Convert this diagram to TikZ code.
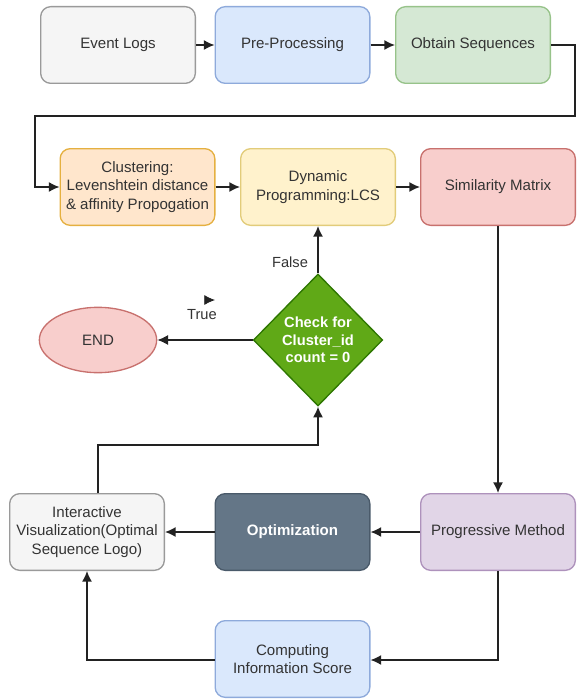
\documentclass[tikz,border=0pt]{standalone}
\usepackage{fontspec}
\setmainfont{Liberation Sans}
\usetikzlibrary{shapes.geometric,arrows.meta}
\definecolor{txt}{HTML}{333333}
\definecolor{grayF}{HTML}{F5F5F5}\definecolor{grayD}{HTML}{9A9A9A}
\definecolor{blueF}{HTML}{DAE8FC}\definecolor{blueD}{HTML}{8EAADB}
\definecolor{greenF}{HTML}{D5E8D4}\definecolor{greenD}{HTML}{97C38A}
\definecolor{orangeF}{HTML}{FFE6CC}\definecolor{orangeD}{HTML}{E5B040}
\definecolor{yellowF}{HTML}{FFF2CC}\definecolor{yellowD}{HTML}{E2CC7A}
\definecolor{redF}{HTML}{F8CECC}\definecolor{redD}{HTML}{C8716E}
\definecolor{purpleF}{HTML}{E1D5E7}\definecolor{purpleD}{HTML}{AE92BC}
\definecolor{slateF}{HTML}{647687}\definecolor{slateD}{HTML}{4A5A6A}
\definecolor{leafF}{HTML}{60A917}\definecolor{leafD}{HTML}{2D7600}
\definecolor{wire}{HTML}{222222}
\tikzset{
  x=0.75pt, y=-0.75pt,
  box/.style={rectangle, rounded corners=7.5pt, line width=1pt,
    minimum width=116pt, minimum height=57.5pt, align=center,
    text=txt, font=\fontsize{11.3}{13.8}\selectfont, inner sep=1pt},
  flow/.style={draw=wire, line width=1.1pt, -{Latex[length=8pt,width=7.5pt]}},
  lbl/.style={text=txt, font=\fontsize{11}{13}\selectfont}
}
\begin{document}
\begin{tikzpicture}
\useasboundingbox (0,0) rectangle (576,699);
% first row
\node[box, fill=grayF, draw=grayD] (ev) at (118,45) {Event Logs};
\node[box, fill=blueF, draw=blueD] (pre) at (292.5,45) {Pre-Processing};
\node[box, fill=greenF, draw=greenD] (obt) at (473,45) {Obtain Sequences};
% second row
\node[box, fill=orangeF, draw=orangeD] (clu) at (137.5,187) {Clustering:\\Levenshtein distance\\\& affinity Propogation};
\node[box, fill=yellowF, draw=yellowD] (dp) at (318,187) {Dynamic\\Programming:LCS};
\node[box, fill=redF, draw=redD] (sim) at (498,187) {Similarity Matrix};
% decision and end
\node[diamond, fill=leafF, draw=leafD, line width=1pt, minimum width=97pt, minimum height=99pt,
      inner sep=0pt, align=center, text=white, font=\fontsize{11}{13}\selectfont\bfseries] (chk) at (318,340)
      {Check for\\Cluster\_id\\count = 0};
\node[ellipse, fill=redF, draw=redD, line width=1pt, minimum width=88pt, minimum height=49pt,
      text=txt, font=\fontsize{11.3}{13.8}\selectfont] (end) at (98,340) {END};
% third row
\node[box, fill=purpleF, draw=purpleD] (prog) at (498,532) {Progressive Method};
\node[box, fill=slateF, draw=slateD, text=white, font=\fontsize{11.3}{13.8}\selectfont\bfseries] (opt) at (292.5,532) {Optimization};
\node[box, fill=grayF, draw=grayD] (vis) at (87,532) {Interactive\\Visualization(Optimal\\Sequence Logo)};
% bottom
\node[box, fill=blueF, draw=blueD] (cis) at (292.5,659) {Computing\\Information Score};

% connectors
\draw[flow] (ev) -- (pre);
\draw[flow] (pre) -- (obt);
\draw[flow] (obt.east) -- (575,45) -- (575,116) -- (35,116) -- (35,187) -- (clu.west);
\draw[flow] (clu) -- (dp);
\draw[flow] (dp) -- (sim);
\draw[flow] (chk.north) -- (dp.south);
\draw[flow] (chk.west) -- (end.east);
\draw[flow] (sim.south) -- (prog.north);
\draw[flow] (prog) -- (opt);
\draw[flow] (opt) -- (vis);
\draw[flow] (vis.north -| 98,0) -- (98,445) -- (318,445) -- (chk.south);
\draw[flow] (prog.south) -- (498,660) -- (cis.east |- 0,660);
\draw[flow] (cis.west |- 0,660) -- (87,660) -- (vis.south);

% branch labels
\node[lbl] (fl) at (290,262) {False};
\node[lbl] (tl) at (202,315) {True};
\coordinate (ta) at (200,300);
\coordinate (tb) at (215,300);
\draw[draw=wire, line width=0.6pt, -{Latex[length=8pt,width=7.5pt]}, shorten <=6pt] (ta) -- (tb);
\end{tikzpicture}
\end{document}
